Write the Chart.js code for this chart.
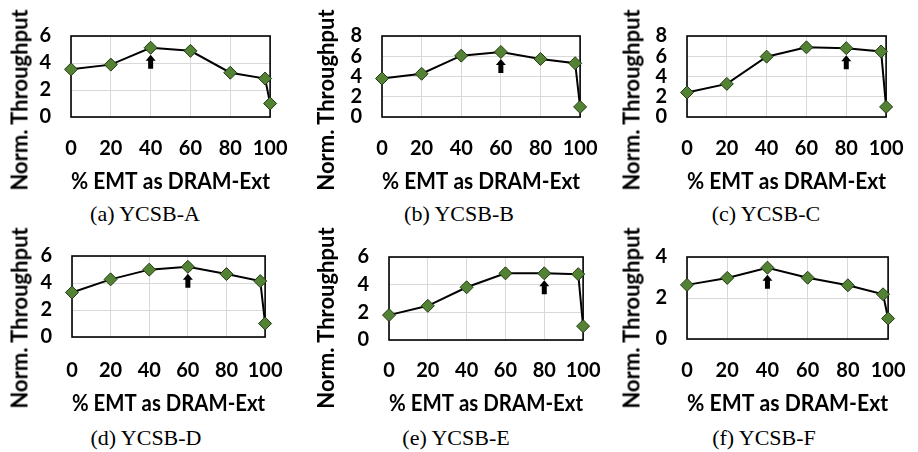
<!DOCTYPE html>
<html>
<head>
<meta charset="utf-8">
<script src="https://cdn.jsdelivr.net/npm/chart.js@4.4.1/dist/chart.umd.min.js"></script>
<style>
  body { margin: 0; background: #fff; width: 918px; height: 452px; position: relative; overflow: hidden; }
  canvas { position: absolute; }
  .ytitle { position: absolute; font: bold 22px Lato, sans-serif; white-space: nowrap; transform: translate(-50%, -50%) rotate(-90deg); }
  .cap { position: absolute; font: 22px "Liberation Serif", serif; white-space: nowrap; transform: translate(-50%, -50%); }
</style>
</head>
<body>
<script>
// x positions (% EMT used as DRAM-Ext); the 97.5 point is the one just before 100
const xPct = [0, 20, 40, 60, 80, 97.5, 100];
const xTicks = [0, 20, 40, 60, 80, 100];

// normalized throughput per workload
const ycsbA = [3.53, 3.88, 5.13, 4.90, 3.28, 2.85, 1];
const ycsbB = [3.80, 4.27, 6.06, 6.42, 5.73, 5.31, 1];
const ycsbC = [2.42, 3.27, 5.96, 6.88, 6.80, 6.47, 1];
const ycsbD = [3.30, 4.27, 4.99, 5.20, 4.66, 4.14, 1];
const ycsbE = [1.80, 2.47, 3.81, 4.82, 4.82, 4.76, 1];
const ycsbF = [2.64, 2.98, 3.48, 2.99, 2.62, 2.18, 1];

// y tick labels per panel
const yTicks6 = [0, 2, 4, 6];
const yTicks8 = [0, 2, 4, 6, 8];
const yTicks4 = [0, 2, 4];

// where the arrow points (best setting)
const bestAt = [40, 60, 80, 60, 80, 40];
const captions = ['(a) YCSB-A', '(b) YCSB-B', '(c) YCSB-C', '(d) YCSB-D', '(e) YCSB-E', '(f) YCSB-F'];
const series = [ycsbA, ycsbB, ycsbC, ycsbD, ycsbE, ycsbF];
const yTickSets = [yTicks6, yTicks8, yTicks8, yTicks6, yTicks6, yTicks4];

const xTitle = '% EMT as DRAM-Ext';
const yTitle = 'Norm. Throughput';

// page layout of each panel (plot box, y title x, caption x)
const boxes = [
  { l: 71,  t: 20,  r: 283, b: 117, ty: 19,  cx: 145 },
  { l: 382, t: 20,  r: 593, b: 117, ty: 325, cx: 459 },
  { l: 687, t: 20,  r: 899, b: 117, ty: 631, cx: 766 },
  { l: 72,  t: 240, r: 280, b: 337, ty: 19,  cx: 146 },
  { l: 389, t: 241, r: 595, b: 340, ty: 325, cx: 456 },
  { l: 687, t: 241, r: 901, b: 339, ty: 631, cx: 764 },
];
const rows = [
  { tick: 148.5, title: 181.5, ytc: 100, cap: 214 },
  { tick: 370.5, title: 403.5, ytc: 318, cap: 438 },
];

const framePlugin = {
  id: 'frame',
  beforeDatasetsDraw(chart) {
    const a = chart.chartArea, ctx = chart.ctx;
    ctx.save();
    ctx.strokeStyle = '#000';
    ctx.lineWidth = 1.6;
    ctx.strokeRect(a.left, a.top, a.right - a.left, a.bottom - a.top);
    ctx.restore();
  },
  afterDatasetsDraw(chart, args, opts) {
    const pts = chart.data.datasets[0].data;
    const p = pts.find(d => d.x === opts.best);
    if (!p) return;
    const x = chart.scales.x.getPixelForValue(p.x);
    const y = chart.scales.y.getPixelForValue(p.y);
    const ctx = chart.ctx;
    ctx.save();
    ctx.fillStyle = '#000';
    ctx.beginPath();
    ctx.moveTo(x, y + 7);
    ctx.lineTo(x + 5, y + 13);
    ctx.lineTo(x + 2.5, y + 13);
    ctx.lineTo(x + 2.5, y + 21);
    ctx.lineTo(x - 2.5, y + 21);
    ctx.lineTo(x - 2.5, y + 13);
    ctx.lineTo(x - 5, y + 13);
    ctx.closePath();
    ctx.fill();
    ctx.restore();
  }
};

const tickFont = { family: 'Lato', weight: 'bold', size: 20 };
const padTop = 16, padRight = 24, yAxisW = 45;

series.forEach((vals, i) => {
  const bx = boxes[i];
  const row = rows[i < 3 ? 0 : 1];
  const yt = yTickSets[i];
  const cv = document.createElement('canvas');
  const left = bx.l - yAxisW, top = bx.t - padTop;
  const bottom = row.title + 13.8;
  cv.width = bx.r + padRight - left;
  cv.height = Math.round(bottom - top);
  cv.style.left = left + 'px';
  cv.style.top = top + 'px';
  document.body.appendChild(cv);

  new Chart(cv, {
    type: 'line',
    data: {
      datasets: [{
        data: xPct.map((x, k) => ({ x: x, y: vals[k] })),
        borderColor: '#000',
        borderWidth: 2,
        pointStyle: 'rectRot',
        pointRadius: 6.5,
        pointBackgroundColor: '#548235',
        pointBorderColor: '#203a12',
        pointBorderWidth: 1,
        clip: false
      }]
    },
    options: {
      responsive: false,
      animation: false,
      events: [],
      layout: { padding: { top: padTop, right: padRight, left: 0, bottom: 0 } },
      plugins: { legend: { display: false }, tooltip: { enabled: false }, frame: { best: bestAt[i] } },
      scales: {
        x: {
          type: 'linear', min: 0, max: 100,
          afterBuildTicks: s => { s.ticks = xTicks.map(v => ({ value: v })); },
          afterFit: s => { s.height = cv.height - padTop - (bx.b - bx.t); },
          grid: { color: '#d9d9d9', drawTicks: false },
          border: { display: false },
          ticks: { font: tickFont, color: '#000', padding: row.tick - bx.b - 12, maxRotation: 0, autoSkip: false },
          title: { display: true, text: xTitle, color: '#000', padding: 0, font: { family: 'Lato', weight: 'bold', size: 23 } }
        },
        y: {
          min: 0, max: yt[yt.length - 1],
          afterBuildTicks: s => { s.ticks = yt.map(v => ({ value: v })); },
          ticks: { font: tickFont, color: '#000', padding: 20, autoSkip: false },
          afterFit: s => { s.width = yAxisW; },
          grid: { color: '#d9d9d9', drawTicks: false },
          border: { display: false }
        }
      }
    },
    plugins: [framePlugin]
  });

  const yd = document.createElement('div');
  yd.className = 'ytitle';
  yd.textContent = yTitle;
  yd.style.left = bx.ty + 'px';
  yd.style.top = row.ytc + 'px';
  document.body.appendChild(yd);

  const cap = document.createElement('div');
  cap.className = 'cap';
  cap.textContent = captions[i];
  cap.style.left = bx.cx + 'px';
  cap.style.top = row.cap + 'px';
  document.body.appendChild(cap);
});
</script>
</body>
</html>
